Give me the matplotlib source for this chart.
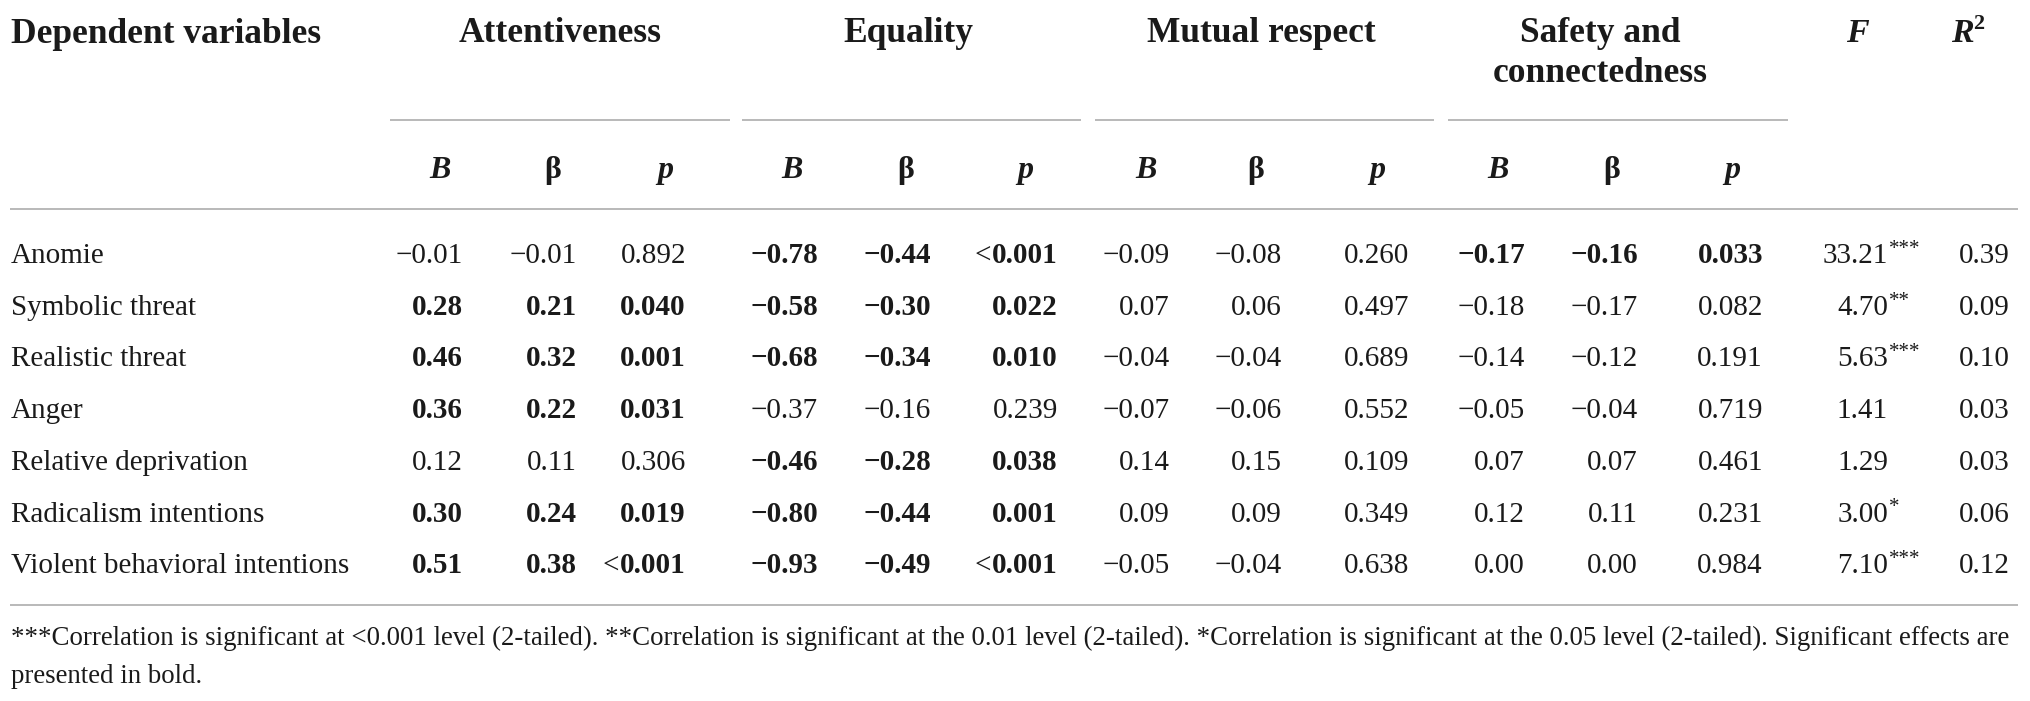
import matplotlib
matplotlib.use("Agg")
import matplotlib.pyplot as plt

# ---- table data ----
dependent_vars = ["Anomie", "Symbolic threat", "Realistic threat", "Anger",
                  "Relative deprivation", "Radicalism intentions",
                  "Violent behavioral intentions"]

att_B = [-0.01, 0.28, 0.46, 0.36, 0.12, 0.30, 0.51]
att_beta = [-0.01, 0.21, 0.32, 0.22, 0.11, 0.24, 0.38]
att_p = ["0.892", "0.040", "0.001", "0.031", "0.306", "0.019", "<0.001"]
att_bold = [False, True, True, True, False, True, True]

eq_B = [-0.78, -0.58, -0.68, -0.37, -0.46, -0.80, -0.93]
eq_beta = [-0.44, -0.30, -0.34, -0.16, -0.28, -0.44, -0.49]
eq_p = ["<0.001", "0.022", "0.010", "0.239", "0.038", "0.001", "<0.001"]
eq_bold = [True, True, True, False, True, True, True]

mr_B = [-0.09, 0.07, -0.04, -0.07, 0.14, 0.09, -0.05]
mr_beta = [-0.08, 0.06, -0.04, -0.06, 0.15, 0.09, -0.04]
mr_p = ["0.260", "0.497", "0.689", "0.552", "0.109", "0.349", "0.638"]
mr_bold = [False] * 7

sc_B = [-0.17, -0.18, -0.14, -0.05, 0.07, 0.12, 0.00]
sc_beta = [-0.16, -0.17, -0.12, -0.04, 0.07, 0.11, 0.00]
sc_p = ["0.033", "0.082", "0.191", "0.719", "0.461", "0.231", "0.984"]
sc_bold = [True, False, False, False, False, False, False]

F_vals = [33.21, 4.70, 5.63, 1.41, 1.29, 3.00, 7.10]
F_stars = ["***", "**", "***", "", "", "*", "***"]
r2_vals = [0.39, 0.09, 0.10, 0.03, 0.03, 0.06, 0.12]

group_names = ["Attentiveness", "Equality", "Mutual respect", "Safety and\nconnectedness"]
sub_labels = ["B", "β", "p"]

footnote_1 = ("***Correlation is significant at <0.001 level (2-tailed). "
              "**Correlation is significant at the 0.01 level (2-tailed). "
              "*Correlation is significant at the 0.05 level (2-tailed). "
              "Significant effects are")
footnote_2 = "presented in bold."

# ---- layout (pixel coordinates) ----
W, H = 2030, 701
FONT = "Liberation Serif"
INK = "#1a1a1a"
RULE = "#b3b3b3"

fig = plt.figure(figsize=(W / 100, H / 100), dpi=100)
ax = fig.add_axes([0, 0, 1, 1])
ax.set_xlim(0, W)
ax.set_ylim(H, 0)
ax.axis("off")

left = 11
right_edge = 2018
group_spans = [(390, 730), (742, 1081), (1095, 1434), (1448, 1788)]
group_centers = [560, 908, 1261, 1600]
value_right = [[463, 577, 686], [818, 931, 1058], [1170, 1282, 1409], [1525, 1638, 1763]]
sub_centers = [[440, 553, 665], [792, 906, 1025], [1146, 1256, 1377], [1498, 1612, 1732]]
F_right, F_head = 1888, 1857
R2_right, R2_head = 2010, 1962

row0, row_step = 263, 51.7
body_fs = 21
head_fs = 25.5
sub_fs = 23


def fmt(v):
    return f"{v:.2f}".replace("-", "\u2212")


def txt(x, y, s, **kw):
    kw.setdefault("fontsize", body_fs)
    kw.setdefault("color", INK)
    kw.setdefault("family", FONT)
    kw.setdefault("va", "baseline")
    return ax.text(x, y, s, **kw)


# header row
txt(left, 43, "Dependent variables", fontsize=head_fs, fontweight="bold")
for name, cx in zip(group_names, group_centers):
    lines = name.split("\n")
    for k, line in enumerate(lines):
        txt(cx, 42 + 40 * k, line, fontsize=head_fs, fontweight="bold", ha="center")
txt(F_head, 42, "F", fontsize=head_fs - 1, fontweight="bold", style="italic", ha="center")
txt(R2_head, 42, "R", fontsize=head_fs - 1, fontweight="bold", style="italic", ha="center")
txt(R2_head + 11, 29, "2", fontsize=16, fontweight="bold", ha="left")

# group underlines
for x0, x1 in group_spans:
    ax.plot([x0, x1], [120, 120], color=RULE, lw=1.3, solid_capstyle="butt")

# sub headers
for centers in sub_centers:
    for cx, lab in zip(centers, sub_labels):
        style = "normal" if lab == "β" else "italic"
        txt(cx, 178, lab, fontsize=sub_fs, fontweight="bold", style=style, ha="center")

for yy in (209, 605):
    ax.plot([left - 1, right_edge], [yy, yy], color=RULE, lw=1.3, solid_capstyle="butt")

# body
groups = [(att_B, att_beta, att_p, att_bold),
          (eq_B, eq_beta, eq_p, eq_bold),
          (mr_B, mr_beta, mr_p, mr_bold),
          (sc_B, sc_beta, sc_p, sc_bold)]

lt_marks = []  # (text artist, y) for "<" prefixes drawn in regular weight
for i, label in enumerate(dependent_vars):
    y = row0 + row_step * i
    txt(left, y, label)
    for (B, beta, p, bold), xs in zip(groups, value_right):
        w = "bold" if bold[i] else "normal"
        txt(xs[0], y, fmt(B[i]), ha="right", fontweight=w)
        txt(xs[1], y, fmt(beta[i]), ha="right", fontweight=w)
        if p[i].startswith("<"):
            t = txt(xs[2], y, p[i][1:], ha="right", fontweight=w)
            lt_marks.append((t, y))
        else:
            txt(xs[2], y, p[i], ha="right", fontweight=w)
    txt(F_right, y, f"{F_vals[i]:.2f}", ha="right")
    if F_stars[i]:
        txt(F_right + 1, y - 9, F_stars[i], fontsize=15, ha="left")
    txt(R2_right, y, f"{r2_vals[i]:.2f}", ha="right")

# footnote, sized so the first line spans the table width
fn = txt(left, 645, footnote_1, fontsize=18)
fig.canvas.draw()
renderer = fig.canvas.get_renderer()
wpx = fn.get_window_extent(renderer).width
fn_fs = 18 * (right_edge + 2 - left) / wpx
fn.set_fontsize(fn_fs)
txt(left, 683, footnote_2, fontsize=fn_fs)

for t, y in lt_marks:
    x0 = t.get_window_extent(renderer).x0
    txt(x0 - 1, y, "<", ha="right")

fig.savefig("out.png", dpi=100, facecolor="white")
